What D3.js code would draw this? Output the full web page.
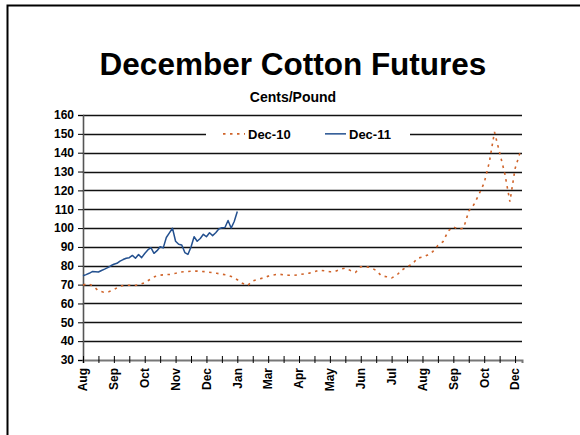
<!DOCTYPE html>
<html><head><meta charset="utf-8">
<script src="https://cdn.jsdelivr.net/npm/d3@7/dist/d3.min.js"></script>
<style>body{margin:0;background:#fff;}svg{display:block;font-family:Arial,"Liberation Sans",sans-serif;}</style>
</head><body>
<svg id="c" width="580" height="435"></svg>
<script>
const title = "December Cotton Futures";
const subtitle = "Cents/Pound";
const yTickValues = [30,40,50,60,70,80,90,100,110,120,130,140,150,160];
const xLabels = ["Aug","Sep","Oct","Nov","Dec","Jan","Mar","Apr","May","Jun","Jul","Aug","Sep","Oct","Dec"];
const seriesNames = ["Dec-10","Dec-11"];
// values sampled every 1/3 category tick
const dec10Step = 1/3;
const dec10 = [69.8,70.5,69.2,66.7,66,66.2,67.3,69,69.6,69.7,69.5,70.1,71,72.7,74.3,75,75.3,75.4,76,76.7,
  76.9,77.1,77.2,77,76.8,76.4,76,75.5,75.1,74.1,72.6,70.7,69.5,72,72.8,73.5,74.5,75.1,75.6,75.2,
  75,74.9,75.3,75.7,76.1,76.8,77.7,77.3,76.8,77,78.1,78.8,77.5,76.5,79.5,79.5,79,77.5,74.7,74.2,
  73.5,75,77.7,79.6,80.7,84,84.6,85.7,87.5,90.8,92.8,98.5,100.7,99.2,100,109,112.5,118,124,135,
  151,140,129,114,131.5,140.3];
// values sampled every 0.2 category tick
const dec11Step = 0.2;
const dec11 = [74.7,75.3,76,76.9,76.8,76.7,77.5,78.2,79,80,80.8,81.3,82.5,83.3,84,84.3,85.5,84,86,84.3,
  86.5,88.4,89.6,86.6,88,90.1,89.5,95,97.5,99.9,93,91.4,91,87,86,90,95.4,93,94.5,96.7,
  95.4,97.5,96,97.5,99.5,100.2,100.3,104,100,103.5,108.8];

const svg = d3.select("#c");
// frame
svg.append("rect").attr("x",7.5).attr("y",5.5).attr("width",600).attr("height",500)
  .attr("fill","none").attr("stroke","#000").attr("stroke-width",2);

const x = d3.scaleLinear().domain([0,28.45]).range([83,522]);
const y = d3.scaleLinear().domain([30,160]).range([360,115]);

svg.append("text").attr("x",293).attr("y",75).attr("text-anchor","middle")
  .attr("font-size",31.5).attr("font-weight","bold").text(title);
svg.append("text").attr("x",293).attr("y",102).attr("text-anchor","middle")
  .attr("font-size",14).attr("font-weight","bold").text(subtitle);

// gridlines
svg.append("g").selectAll("line").data(yTickValues.filter(v=>v>30)).join("line")
  .attr("x1",83).attr("x2",522).attr("y1",d=>Math.round(y(d))+0.5).attr("y2",d=>Math.round(y(d))+0.5)
  .attr("stroke","#111").attr("stroke-width",1.4);

// y axis
const ya = svg.append("g").attr("transform","translate(83,0)")
  .call(d3.axisLeft(y).tickValues(yTickValues).tickSize(5).tickPadding(4));
ya.select(".domain").attr("stroke","#555").attr("stroke-width",1.6);
ya.selectAll(".tick line").attr("stroke","#000");
ya.selectAll(".tick text").attr("font-size",12).attr("font-weight","bold").attr("fill","#000")
  .attr("font-family","Arial, 'Liberation Sans', sans-serif");

// x axis
const xa = svg.append("g").attr("transform","translate(0,360)")
  .call(d3.axisBottom(x).tickValues(d3.range(29)).tickSize(3).tickFormat(""));
xa.select(".domain").attr("stroke","#777").attr("stroke-width",2);
xa.selectAll(".tick line").attr("y1",-4).attr("y2",3).attr("stroke","#000");
svg.append("g").selectAll("text").data(xLabels).join("text")
  .attr("transform",(d,i)=>`translate(${x(i*2)},368) rotate(-90)`)
  .attr("text-anchor","end").attr("dy","0.36em")
  .attr("font-size",12).attr("font-weight","bold").text(d=>d);

// series
const line = step => d3.line().x((d,i)=>x(i*step)).y(d=>y(d));
svg.append("path").datum(dec10).attr("d",line(dec10Step)).attr("fill","none")
  .attr("stroke","#D0642A").attr("stroke-width",1.6).attr("stroke-dasharray","2.5,4.5");
svg.append("path").datum(dec11).attr("d",line(dec11Step)).attr("fill","none")
  .attr("stroke","#23508F").attr("stroke-width",1.5).attr("stroke-linejoin","round");

// legend
const lg = svg.append("g");
lg.append("rect").attr("x",206).attr("y",125).attr("width",204).attr("height",17).attr("fill","#fff");
const ly = y(150);
lg.append("line").attr("x1",223).attr("x2",245).attr("y1",ly).attr("y2",ly)
  .attr("stroke","#D0642A").attr("stroke-width",1.6).attr("stroke-dasharray","2.5,4.5");
lg.append("text").attr("x",248).attr("y",ly).attr("dy","0.36em").attr("font-size",13)
  .attr("font-weight","bold").text(seriesNames[0]);
lg.append("line").attr("x1",325).attr("x2",346).attr("y1",ly).attr("y2",ly)
  .attr("stroke","#23508F").attr("stroke-width",1.5);
lg.append("text").attr("x",349).attr("y",ly).attr("dy","0.36em").attr("font-size",13)
  .attr("font-weight","bold").text(seriesNames[1]);
</script>
</body></html>
